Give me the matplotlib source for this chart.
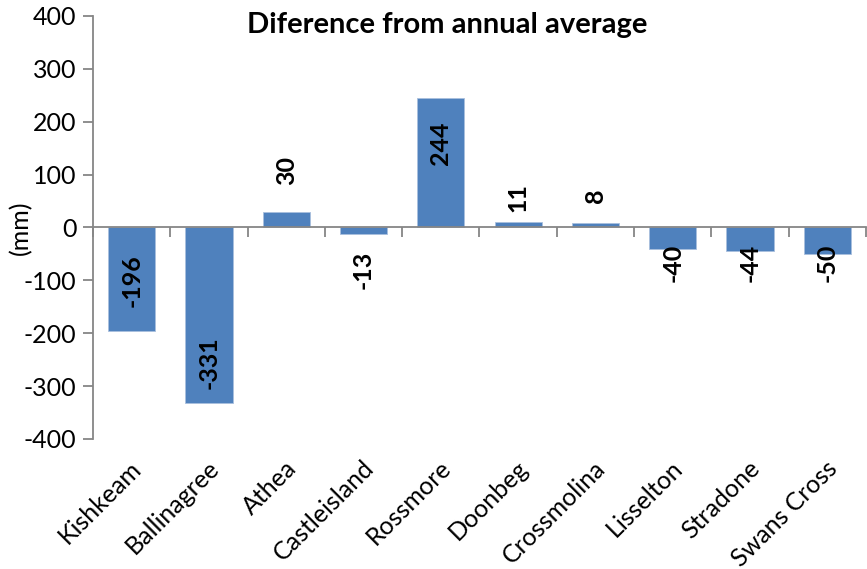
import matplotlib
matplotlib.use("Agg")
import matplotlib.pyplot as plt
import matplotlib.transforms as mtransforms

stations = ["Kishkeam", "Ballinagree", "Athea", "Castleisland", "Rossmore",
            "Doonbeg", "Crossmolina", "Lisselton", "Stradone", "Swans Cross"]
diff_mm = [-196, -331, 30, -13, 244, 11, 8, -40, -44, -50]
y_ticks = [-400, -300, -200, -100, 0, 100, 200, 300, 400]

BAR_COLOR = "#4F81BD"
AXIS_GRAY = "#868686"
FS = 18

plt.rcParams["font.family"] = ["Lato", "DejaVu Sans"]

fig = plt.figure(figsize=(8.67, 5.69), dpi=100)
ax = fig.add_axes([0.1073, 0.2285, 0.8915, 0.7434])

x = list(range(len(stations)))
ax.bar(x, diff_mm, width=0.61, color=BAR_COLOR, edgecolor="#A9BFDD", linewidth=0.6, zorder=2)

ax.set_xlim(-0.5, len(stations) - 0.5)
ax.set_ylim(-400, 400)
ax.set_yticks(y_ticks)
ax.set_yticklabels([str(t) for t in y_ticks], fontsize=FS)

# category boundaries get the tick marks, as in Excel
ax.set_xticks([i - 0.5 for i in range(len(stations) + 1)])
ax.set_xticklabels([])

for s in ["top", "right"]:
    ax.spines[s].set_visible(False)
ax.spines["bottom"].set_position(("data", 0))
for s in ["left", "bottom"]:
    ax.spines[s].set_color(AXIS_GRAY)
    ax.spines[s].set_linewidth(1.3)
ax.tick_params(axis="both", direction="out", length=7, width=1.3, color=AXIS_GRAY)
ax.tick_params(axis="y", pad=5)

# category names below the plot area
trans = mtransforms.blended_transform_factory(ax.transData, ax.transAxes)
for i, name in enumerate(stations):
    ax.text(i + 0.08, -0.06, name, transform=trans, rotation=45,
            rotation_mode="anchor", ha="right", va="center", fontsize=FS)

# data labels (placed roughly where Excel put them)
label_at = [-100, -255, 108, -81, 160, 57, 60, -66, -66, -66]
for i, (v, ly) in enumerate(zip(diff_mm, label_at)):
    ax.text(i, ly, str(v), rotation=90, ha="center", va="center",
            fontsize=FS, fontweight="bold", zorder=3)

ax.set_ylabel("(mm)", fontsize=FS)
ax.yaxis.set_label_coords(-0.079, 0.5)

fig.text(447 / 867, 1 - 25 / 569, "Diference from annual average",
         ha="center", va="center", fontsize=21, fontweight="bold")

fig.savefig("out.png", dpi=100)
